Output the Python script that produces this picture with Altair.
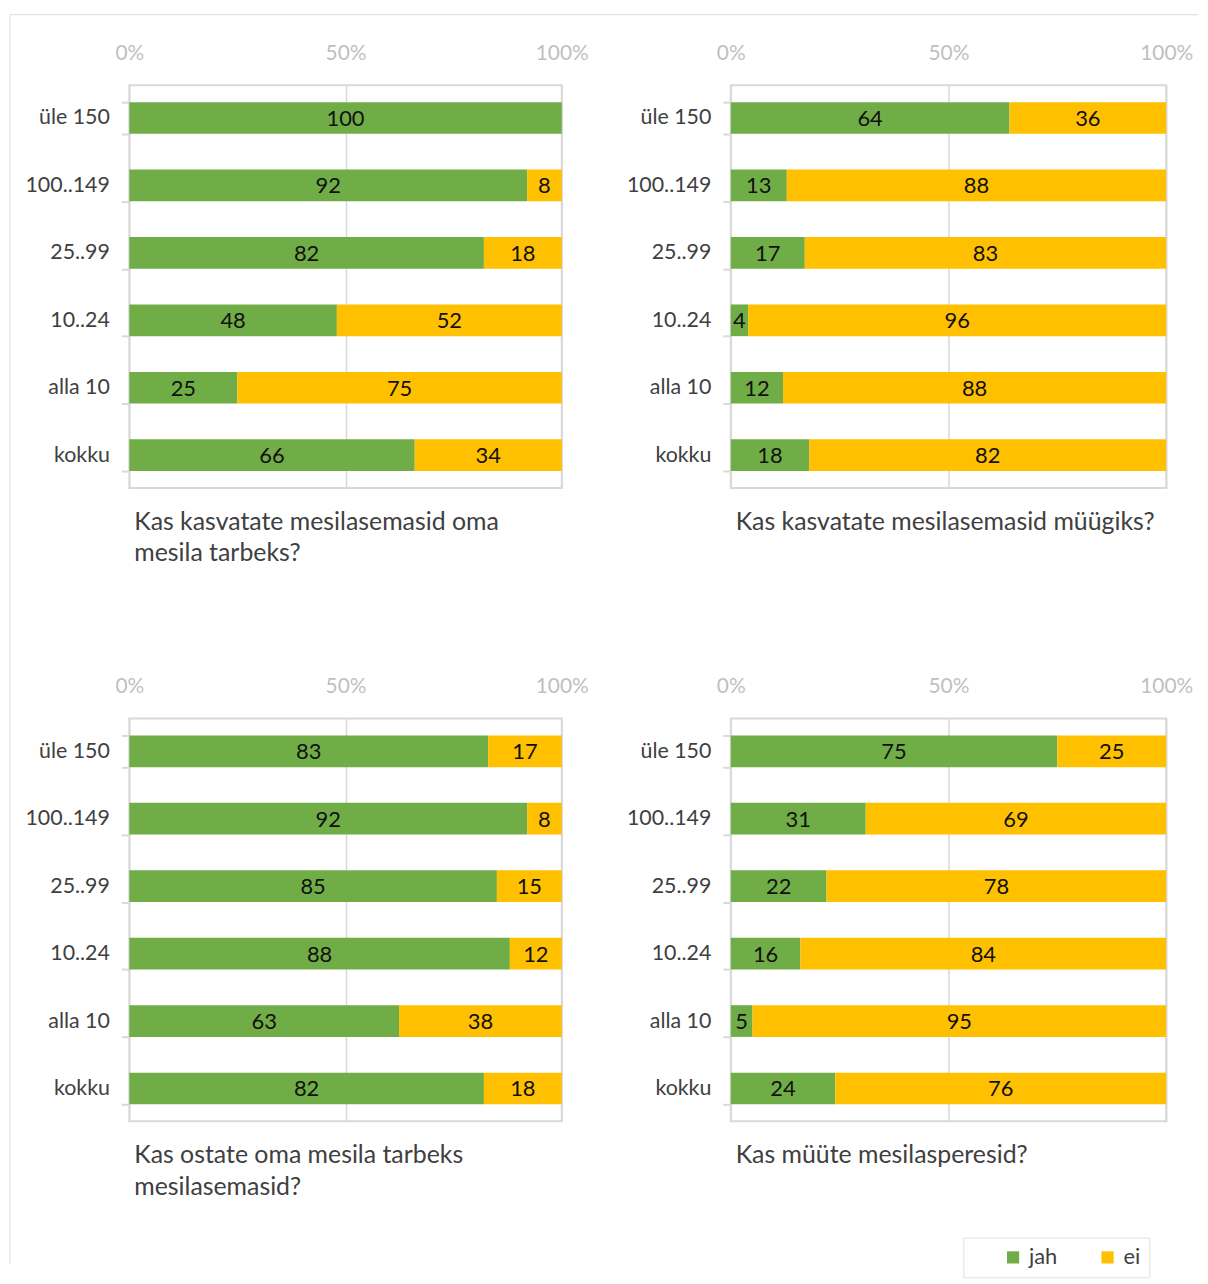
import altair as alt
import pandas as pd

categories = ["üle 150", "100..149", "25..99", "10..24", "alla 10", "kokku"]
series = ["jah", "ei"]
colors = ["#70AD47", "#FFC000"]

p1_jah = [100, 92, 82, 48, 25, 66]
p1_ei = [0, 8, 18, 52, 75, 34]
p2_jah = [64, 13, 17, 4, 12, 18]
p2_ei = [36, 88, 83, 96, 88, 82]
p3_jah = [83, 92, 85, 88, 63, 82]
p3_ei = [17, 8, 15, 12, 38, 18]
p4_jah = [75, 31, 22, 16, 5, 24]
p4_ei = [25, 69, 78, 84, 95, 76]

titles = [
    ["Kas kasvatate mesilasemasid oma", "mesila tarbeks?"],
    ["Kas kasvatate mesilasemasid müügiks?"],
    ["Kas ostate oma mesila tarbeks", "mesilasemasid?"],
    ["Kas müüte mesilasperesid?"],
]

FONT = "Lato"
GRID = "#D9D9D9"
H = 405


def make_df(jah, ei):
    rows = []
    for c, j, e in zip(categories, jah, ei):
        rows.append({"cat": c, "serie": series[0], "order": 0, "value": j})
        rows.append({"cat": c, "serie": series[1], "order": 1, "value": e})
    return pd.DataFrame(rows)


def panel(jah, ei, title, w, frame=False):
    df = make_df(jah, ei)
    base = alt.Chart(df).transform_stack(
        stack="value",
        groupby=["cat"],
        as_=["v0", "v1"],
        offset="normalize",
        sort=[alt.SortField(field="order", order="ascending")],
    ).transform_calculate(mid="(datum.v0 + datum.v1) / 2")

    yscale = alt.Scale(paddingInner=0.53, paddingOuter=0.25)
    y = alt.Y(
        "cat:N",
        sort=categories,
        title=None,
        scale=yscale,
        axis=alt.Axis(
            domain=False,
            ticks=True,
            tickBand="extent",
            tickSize=8,
            tickColor=GRID,
            tickWidth=2,
            labelFont=FONT,
            labelFontSize=21.5,
            labelColor="#404040",
            labelPadding=12,
            grid=False,
        ),
    )
    x = alt.X(
        "v0:Q",
        title=None,
        scale=alt.Scale(domain=[0, 1], nice=False),
        axis=alt.Axis(
            orient="top",
            values=[0, 0.5, 1],
            format="%",
            domain=False,
            ticks=False,
            labelFlush=False,
            labelFont=FONT,
            labelFontSize=21,
            labelColor="#BFBFBF",
            labelPadding=22,
            grid=True,
            gridColor=GRID,
            gridWidth=1.5,
        ),
    )
    bars = base.mark_bar().encode(
        x=x,
        x2="v1:Q",
        y=y,
        color=alt.Color(
            "serie:N",
            sort=series,
            scale=alt.Scale(domain=series, range=colors),
            legend=alt.Legend(title=None),
        ),
    )
    text = base.transform_filter("datum.value > 0").mark_text(
        font=FONT, fontSize=22, color="#111111", baseline="middle", dy=1
    ).encode(
        x=alt.X("mid:Q", scale=alt.Scale(domain=[0, 1], nice=False)),
        y=alt.Y("cat:N", sort=categories, scale=yscale),
        text="value:Q",
    )
    one = pd.DataFrame({"k": [0]})
    caption = alt.Chart(one).mark_text(
        font=FONT,
        fontSize=25,
        color="#404040",
        align="left",
        baseline="top",
        lineHeight=32,
    ).encode(
        x=alt.value(5),
        y=alt.value(H + 22),
        text=alt.value(title),
    )
    layers = [bars, text, caption]
    if frame:
        vline = alt.Chart(one).mark_rule(color="#DDDDDD", strokeWidth=1).encode(
            x=alt.value(-120), y=alt.value(-71), y2=alt.value(1185)
        )
        hline = alt.Chart(one).mark_rule(color="#DDDDDD", strokeWidth=1).encode(
            x=alt.value(-120), x2=alt.value(1075), y=alt.value(-71)
        )
        layers = [vline, hline] + layers
    return alt.layer(*layers).properties(width=w, height=H)


chart = alt.concat(
    panel(p1_jah, p1_ei, titles[0], 435, frame=True),
    panel(p2_jah, p2_ei, titles[1], 438),
    panel(p3_jah, p3_ei, titles[2], 435),
    panel(p4_jah, p4_ei, titles[3], 438),
    columns=2,
    spacing=alt.RowColnumber(row=232, column=170),
    bounds="flush",
).properties(
    padding={"left": 0, "top": 1, "right": 0, "bottom": 0}
).configure_view(
    stroke=GRID, strokeWidth=2
).configure_legend(
    orient="none",
    legendX=839,
    legendY=1159,
    direction="horizontal",
    columns=2,
    gridAlign="all",
    symbolType="square",
    symbolSize=150,
    symbolOffset=30,
    labelOffset=5,
    labelFont=FONT,
    labelFontSize=22,
    labelColor="#404040",
    strokeColor="#E0E0E0",
    padding=9,
    columnPadding=9,
    symbolStrokeWidth=0,
)

chart.save("out.html", embed_options={"renderer": "svg", "actions": False})
